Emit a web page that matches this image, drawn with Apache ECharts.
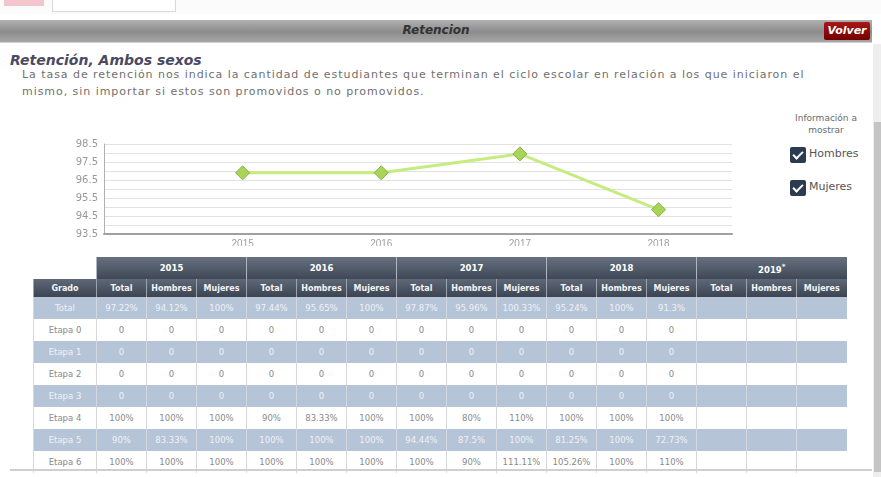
<!DOCTYPE html>
<html>
<head>
<meta charset="utf-8">
<script src="https://cdn.jsdelivr.net/npm/echarts@6/dist/echarts.min.js"></script>
<style>
    html, body { margin: 0; padding: 0; background: #fff; }
    body { width: 881px; height: 477px; position: relative; overflow: hidden; font-family: "DejaVu Sans", Verdana, sans-serif; }
    .abs { position: absolute; }
    #topstrip { left: 0; top: 0; width: 881px; height: 14px; background: #fbfbfb; }
    #topbox { left: 52px; top: -2px; width: 122px; height: 12px; border: 1px solid #d8d8d8; background: #fff; }
    #topred { left: 4px; top: 0px; width: 40px; height: 6px; background: #f2c6cc; }
    #bar { left: 0; top: 20px; width: 872px; height: 22px; background: linear-gradient(#b0b0b0, #8c8c8c 55%, #a6a6a6); border-bottom: 1px solid #cfcfcf; }
    #bar span { position: absolute; left: 0; width: 872px; top: 3px; text-align: center; font-weight: bold; font-style: italic; font-size: 12px; color: #333; }
    #volver { left: 824px; top: 22px; width: 46px; height: 18px; background: linear-gradient(#a81818, #730000); border-radius: 2px; color: #fff; font-weight: bold; font-style: italic; font-size: 11px; text-align: center; line-height: 18px; }
    #scroll { left: 873px; top: 44px; width: 8px; height: 433px; background: #eeeeee; }
    #thumb { left: 874px; top: 122px; width: 7px; height: 350px; background: #c4c4c4; }
    #title { left: 10px; top: 52px; font-size: 14px; font-weight: bold; font-style: italic; color: #4a4a62; }
    #desc { left: 22px; top: 66px; width: 840px; font-size: 11px; line-height: 17px; letter-spacing: 0.95px; color: #707070; }
    #info { left: 782px; top: 112px; width: 88px; text-align: center; font-size: 9px; line-height: 12px; color: #6a6a6a; }
    .chk { width: 16px; height: 16px; background: #2c3b50; border-radius: 2px; }
    .chk:after { content: ""; position: absolute; left: 5px; top: 2px; width: 4px; height: 8px; border: solid #fff; border-width: 0 2px 2px 0; transform: rotate(45deg); }
    .chklab { font-size: 11px; color: #555; }
    #chart { left: 0; top: 125px; width: 760px; height: 121px; }
    #tbl { left: 33px; top: 257px; border-collapse: collapse; table-layout: fixed; }
    #tbl td { padding: 0; text-align: center; font-size: 8.5px; white-space: nowrap; overflow: hidden; border-left: 1px solid #d4d8de; }
    #tbl tr.yr td { height: 22px; background: linear-gradient(#66707e, #3f4857); color: #fff; font-weight: bold; border-left: 1px solid #aeb5c0; }
    #tbl tr.sub td { height: 18px; background: linear-gradient(#5f6876, #3c4452); color: #f4f4f4; font-weight: bold; font-size: 8px; border-left: 1px solid #9aa2ae; }
    #tbl tr.blue td { height: 22px; background: #b6c4d7; color: #eef2f7; }
    #tbl tr.white td { height: 22px; background: #fff; color: #8a8a8a; }
    #bottomline { left: 10px; top: 469px; width: 862px; height: 2px; background: #cfcfcf; }
</style>
</head>
<body>
<div class="abs" id="topstrip"></div>
<div class="abs" id="topred"></div>
<div class="abs" id="topbox"></div>
<div class="abs" id="bar"><span>Retencion</span></div>
<div class="abs" id="volver">Volver</div>
<div class="abs" id="scroll"></div>
<div class="abs" id="thumb"></div>
<div class="abs" id="title">Retención, Ambos sexos</div>
<div class="abs" id="desc">La tasa de retención nos indica la cantidad de estudiantes que terminan el ciclo escolar en relación a los que iniciaron el<br>mismo, sin importar si estos son promovidos o no promovidos.</div>
<div class="abs" id="info">Información a<br>mostrar</div>
<div class="abs chk" style="left:790px;top:147px;"></div>
<div class="abs chklab" style="left:809px;top:147px;">Hombres</div>
<div class="abs chk" style="left:790px;top:180px;"></div>
<div class="abs chklab" style="left:809px;top:180px;">Mujeres</div>
<div class="abs" id="chart"></div>
<table class="abs" id="tbl"></table>
<div class="abs" id="bottomline"></div>

<script>
    // chart data
    var chartYears = [2015, 2016, 2017, 2018];
    var retencion = [96.9, 96.9, 97.95, 94.85];

    // table data
    var tableYears = ['2015', '2016', '2017', '2018', '2019<sup>*</sup>'];
    var subHeads = ['Total', 'Hombres', 'Mujeres'];
    var grados = ['Total', 'Etapa 0', 'Etapa 1', 'Etapa 2', 'Etapa 3', 'Etapa 4', 'Etapa 5', 'Etapa 6'];
    var rowTotal = ['97.22%', '94.12%', '100%', '97.44%', '95.65%', '100%', '97.87%', '95.96%', '100.33%', '95.24%', '100%', '91.3%', '', '', ''];
    var rowEtapa0 = ['0', '0', '0', '0', '0', '0', '0', '0', '0', '0', '0', '0', '', '', ''];
    var rowEtapa1 = ['0', '0', '0', '0', '0', '0', '0', '0', '0', '0', '0', '0', '', '', ''];
    var rowEtapa2 = ['0', '0', '0', '0', '0', '0', '0', '0', '0', '0', '0', '0', '', '', ''];
    var rowEtapa3 = ['0', '0', '0', '0', '0', '0', '0', '0', '0', '0', '0', '0', '', '', ''];
    var rowEtapa4 = ['100%', '100%', '100%', '90%', '83.33%', '100%', '100%', '80%', '110%', '100%', '100%', '100%', '', '', ''];
    var rowEtapa5 = ['90%', '83.33%', '100%', '100%', '100%', '100%', '94.44%', '87.5%', '100%', '81.25%', '100%', '72.73%', '', '', ''];
    var rowEtapa6 = ['100%', '100%', '100%', '100%', '100%', '100%', '100%', '90%', '111.11%', '105.26%', '100%', '110%', '', '', ''];
    var rows = [rowTotal, rowEtapa0, rowEtapa1, rowEtapa2, rowEtapa3, rowEtapa4, rowEtapa5, rowEtapa6];

    var chart = echarts.init(document.getElementById('chart'));
    var points = [];
    for (var i = 0; i < chartYears.length; i++) {
        points.push([chartYears[i], retencion[i]]);
    }
    chart.setOption({
        animation: false,
        grid: {left: 104, top: 19, width: 628, height: 90, outerBoundsMode: 'none'},
        xAxis: {
            type: 'value',
            min: 2014,
            max: 2018.53,
            interval: 1,
            axisLine: {lineStyle: {color: '#a0a0a0', width: 2}},
            axisTick: {show: false},
            splitLine: {show: false},
            axisLabel: {
                color: '#a0a0a0', fontSize: 10, margin: 5,
                formatter: function (v) { return chartYears.indexOf(v) >= 0 ? String(v) : ''; }
            }
        },
        yAxis: {
            type: 'value',
            min: 93.5,
            max: 98.5,
            interval: 0.5,
            axisLine: {show: true, lineStyle: {color: '#b0b0b0'}},
            axisTick: {show: false},
            splitLine: {lineStyle: {color: '#e2e2e2'}},
            axisLabel: {
                color: '#999', fontSize: 10, margin: 6, fontFamily: 'DejaVu Sans',
                formatter: function (v) { return Math.abs((v - 93.5) % 1) < 0.01 ? v.toFixed(1) : ''; }
            }
        },
        series: [{
            type: 'line',
            data: points,
            symbol: 'diamond',
            symbolSize: 14,
            lineStyle: {color: '#c6ec80', width: 3},
            itemStyle: {color: '#a9d45a', borderColor: '#86b140', borderWidth: 1}
        }]
    });

    // build the table
    var tbl = document.getElementById('tbl');
    var html = '<colgroup><col style="width:63px">';
    for (var c = 0; c < 15; c++) {
        html += '<col style="width:50px">';
    }
    html += '</colgroup>';
    html += '<tr class="yr"><td style="background:#fff;border-left:none"></td>';
    for (var y = 0; y < tableYears.length; y++) {
        html += '<td colspan="3">' + tableYears[y] + '</td>';
    }
    html += '</tr><tr class="sub"><td>Grado</td>';
    for (var y2 = 0; y2 < tableYears.length; y2++) {
        for (var s = 0; s < subHeads.length; s++) {
            html += '<td>' + subHeads[s] + '</td>';
        }
    }
    html += '</tr>';
    for (var r = 0; r < rows.length; r++) {
        html += '<tr class="' + (r % 2 === 0 ? 'blue' : 'white') + '"><td>' + grados[r] + '</td>';
        for (var k = 0; k < rows[r].length; k++) {
            html += '<td>' + rows[r][k] + '</td>';
        }
        html += '</tr>';
    }
    tbl.innerHTML = html;
</script>
</body>
</html>
